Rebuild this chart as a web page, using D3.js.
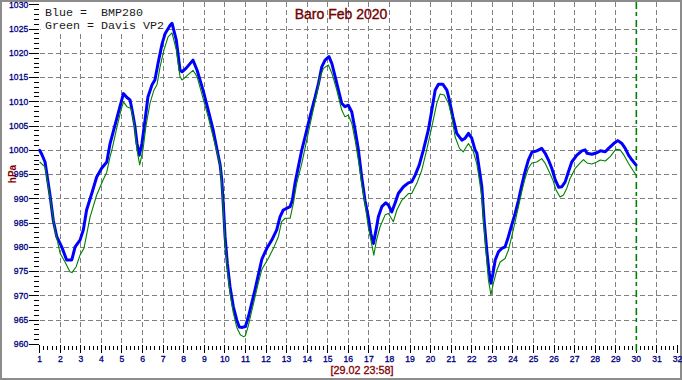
<!DOCTYPE html>
<html><head><meta charset="utf-8">
<script src="https://cdn.jsdelivr.net/npm/d3@7"></script>
<style>html,body{margin:0;padding:0;background:#fff;overflow:hidden}</style>
</head><body>
<script>
// ---- data ----
const titleText = "Baro Feb 2020";
const yAxisLabel = "hPa";
const timeLabel = "[29.02 23:58]";
const legendLines = ["Blue =  BMP280", "Green = Davis VP2"];
const dayTicks = [1,2,3,4,5,6,7,8,9,10,11,12,13,14,15,16,17,18,19,20,21,22,23,24,25,26,27,28,29,30,31,32];
const hpaTicks = [960,965,970,975,980,985,990,995,1000,1005,1010,1015,1020,1025,1030];
const markerDay = 30;

const blueDays = [1.0,1.1,1.26,1.5,1.66,1.83,2.07,2.31,2.56,2.72,2.96,3.12,3.28,3.53,3.77,4.01,4.26,4.42,4.66,4.9,5.07,5.24,5.39,5.49,5.63,5.73,5.84,5.97,6.12,6.26,6.46,6.6,6.75,6.95,7.1,7.34,7.43,7.64,7.82,7.92,8.11,8.45,8.65,8.94,9.19,9.43,9.62,9.77,9.85,9.93,10.01,10.12,10.25,10.41,10.58,10.7,10.85,11.0,11.15,11.3,11.45,11.6,11.8,12.04,12.28,12.52,12.68,12.84,13.17,13.28,13.41,13.57,13.74,13.9,14.06,14.22,14.39,14.55,14.71,14.87,15.06,15.2,15.36,15.52,15.68,15.84,16.0,16.17,16.33,16.49,16.65,16.81,16.97,17.09,17.22,17.35,17.46,17.63,17.82,17.95,18.11,18.27,18.43,18.68,18.92,19.08,19.25,19.45,19.65,19.89,20.06,20.22,20.38,20.6,20.79,20.91,21.08,21.27,21.52,21.68,21.84,22.0,22.16,22.25,22.37,22.49,22.6,22.73,22.83,22.93,23.03,23.14,23.3,23.46,23.62,23.78,23.94,24.11,24.27,24.43,24.59,24.75,24.92,25.16,25.4,25.57,25.73,25.89,26.06,26.22,26.38,26.54,26.7,26.86,27.11,27.35,27.51,27.6,27.84,28.08,28.25,28.49,28.65,28.9,29.1,29.3,29.46,29.62,29.79,29.98];
const blueValues = [1000.0,999.2,997.6,990.8,985.6,982.2,980.1,977.4,977.4,980.1,981.5,983.6,987.7,991.1,994.5,996.3,997.6,1001.4,1005.2,1009.0,1011.7,1010.9,1010.4,1008.3,1004.9,1001.4,999.0,1001.4,1006.2,1011.0,1013.5,1014.5,1017.9,1022.0,1024.1,1025.8,1026.2,1022.7,1016.5,1016.2,1016.9,1018.6,1016.5,1012.4,1008.3,1004.2,1000.1,997.0,993.9,988.4,982.2,976.7,971.9,967.8,965.0,963.6,963.5,963.7,965.8,968.4,971.0,973.8,977.6,979.8,981.5,983.6,986.3,987.7,988.4,989.7,993.2,996.6,1000.1,1002.8,1005.6,1008.3,1011.0,1013.8,1017.2,1018.6,1019.3,1017.9,1015.2,1012.4,1009.7,1009.0,1009.3,1007.9,1004.2,1000.1,994.5,989.7,986.3,982.9,980.8,983.6,986.3,988.4,989.2,988.7,987.3,989.1,991.1,992.5,993.3,993.5,994.9,997.0,1000.1,1004.2,1008.3,1012.4,1013.6,1013.6,1012.4,1010.4,1006.9,1003.5,1002.1,1002.5,1003.5,1002.5,1000.1,999.4,996.0,992.5,985.6,979.4,975.3,972.6,974.6,977.4,979.1,979.8,980.1,982.2,984.6,987.0,989.7,992.8,995.6,998.0,999.6,999.9,1000.4,999.4,998.0,996.3,993.9,992.4,992.5,993.5,995.6,997.6,999.0,999.9,1000.1,999.4,999.2,999.5,999.9,999.7,1000.4,1001.4,1002.0,1001.4,1000.4,999.0,998.0,997.0];

const greenDays = [1.0,1.26,1.5,1.74,1.99,2.23,2.47,2.57,2.77,2.96,3.15,3.45,3.77,4.08,4.26,4.42,4.51,4.76,4.95,5.07,5.24,5.44,5.59,5.73,5.86,6.02,6.16,6.36,6.55,6.7,6.85,7.04,7.24,7.43,7.64,7.82,7.92,8.11,8.45,8.65,8.94,9.19,9.43,9.67,9.77,9.85,9.93,10.01,10.12,10.25,10.41,10.58,10.75,10.9,11.0,11.15,11.3,11.45,11.6,11.8,12.11,12.36,12.6,12.76,12.93,13.17,13.33,13.49,13.74,13.98,14.22,14.47,14.63,14.79,15.03,15.2,15.44,15.68,15.84,16.0,16.17,16.33,16.49,16.65,16.81,16.97,17.13,17.24,17.37,17.54,17.79,17.95,18.19,18.36,18.6,18.92,19.08,19.33,19.57,19.81,20.06,20.3,20.46,20.66,20.87,21.03,21.19,21.4,21.59,21.84,22.08,22.24,22.32,22.49,22.6,22.7,22.81,22.93,23.05,23.22,23.38,23.62,23.78,23.94,24.11,24.27,24.43,24.59,24.75,24.92,25.16,25.4,25.57,25.73,25.94,26.1,26.29,26.46,26.62,26.78,27.03,27.27,27.43,27.6,27.84,28.08,28.25,28.49,28.73,29.0,29.21,29.4,29.62,29.83,29.99];
const greenValues = [997.6,996.6,990.4,983.6,978.8,977.0,975.0,974.8,976.0,978.4,979.8,986.3,990.8,993.9,995.5,998.7,1000.1,1004.9,1008.3,1010.0,1009.0,1008.6,1005.6,1000.1,997.0,1000.1,1004.9,1009.7,1012.4,1013.5,1017.2,1020.7,1023.4,1024.2,1020.7,1015.2,1014.5,1015.2,1016.5,1015.2,1010.7,1006.9,1002.8,998.7,997.0,993.0,987.5,981.0,975.5,970.5,966.5,963.5,962.0,961.6,961.8,964.0,966.8,969.5,972.2,975.5,977.7,979.8,982.2,985.3,986.0,986.0,989.1,993.2,997.3,1002.1,1006.9,1011.7,1015.2,1016.9,1017.6,1015.9,1012.4,1008.3,1006.9,1007.3,1005.6,1002.1,998.0,993.2,989.1,984.2,980.8,978.4,981.5,984.2,986.7,987.0,985.3,987.7,989.7,991.1,991.1,993.2,995.9,1000.1,1004.9,1009.7,1011.6,1011.4,1009.7,1006.9,1002.8,1000.4,999.7,1001.4,999.7,997.3,995.3,990.4,984.2,978.8,973.3,970.2,972.6,975.3,977.0,977.7,979.4,982.2,985.3,988.4,991.5,994.2,996.3,997.4,997.6,998.3,997.3,995.9,993.9,991.8,990.4,990.8,992.2,994.2,996.3,997.4,998.1,997.4,997.2,997.6,998.0,997.8,998.7,1000.2,1000.1,999.0,997.3,995.9,994.9];

// ---- chart ----
const W = 682, H = 380;
const FONT = "'Liberation Sans', Arial, sans-serif";
const svg = d3.select("body").append("svg").attr("width", W).attr("height", H)
  .style("display","block").style("font-family", FONT);

svg.append("rect").attr("x",1).attr("y",1).attr("width",W-2).attr("height",H-2)
  .attr("fill","#fff").attr("stroke","#8c8c8c").attr("stroke-width",2);

const x = d3.scaleLinear().domain([1,32]).range([39.2, 677.0]);
const y = d3.scaleLinear().domain([960,1030]).range([343.9, 4.3]);

// grid
const grid = svg.append("g").attr("stroke","#808080").attr("stroke-width",1)
  .attr("stroke-dasharray","5,3").attr("shape-rendering","crispEdges");
grid.selectAll("line.h").data(hpaTicks.filter(v => v > 960 && v < 1030)).join("line")
  .attr("class","h").attr("x1", x(1)+0.5).attr("x2", x(32)+0.5)
  .attr("y1", d => y(d)+0.5).attr("y2", d => y(d)+0.5);
grid.selectAll("line.v").data(dayTicks.filter(d => d > 1 && d < 32 && d !== markerDay)).join("line")
  .attr("class","v").attr("x1", d => x(d)+0.5).attr("x2", d => x(d)+0.5)
  .attr("y1", 2).attr("y2", y(960)+0.5);

// legend background
svg.append("rect").attr("x", x(1)+1.5).attr("y", 2).attr("width", 125).attr("height", 31).attr("fill","#fff");

// y axis
const yAxis = svg.append("g").attr("transform",`translate(${x(1)},0)`)
  .call(d3.axisLeft(y).tickValues(hpaTicks).tickSize(10).tickPadding(1).tickFormat(d3.format("d")));
yAxis.select(".domain").remove();
yAxis.selectAll("line").attr("stroke","#000").attr("shape-rendering","crispEdges");
yAxis.selectAll("text").attr("fill","#000080").attr("stroke","#000080").attr("stroke-width",0.3)
  .style("font-size","8.6px").style("font-family", FONT);

const yMinor = svg.append("g").attr("transform",`translate(${x(1)},0)`)
  .call(d3.axisLeft(y).tickValues(d3.range(960,1031,1).filter(v => v % 5 !== 0)).tickSize(5).tickFormat(""));
yMinor.select(".domain").remove();
yMinor.selectAll("line").attr("stroke","#000").attr("shape-rendering","crispEdges");

// x axis
const xAxis = svg.append("g").attr("transform",`translate(0,${y(960)+1})`)
  .call(d3.axisBottom(x).tickValues(dayTicks).tickSize(8).tickPadding(3.5).tickFormat(d3.format("d")));
xAxis.select(".domain").remove();
xAxis.selectAll("line").attr("stroke","#000").attr("shape-rendering","crispEdges");
xAxis.selectAll("text").attr("fill","#000080").attr("stroke","#000080").attr("stroke-width",0.3)
  .style("font-size","8.6px").style("font-family", FONT);

const minorDays = d3.range(10, 320, 2).map(v => v/10).filter(v => Math.abs(v - Math.round(v)) > 1e-6 && v < 32);
const xMinor = svg.append("g").attr("transform",`translate(0,${y(960)+2})`)
  .call(d3.axisBottom(x).tickValues(minorDays).tickSize(4.5).tickFormat(""));
xMinor.select(".domain").remove();
xMinor.selectAll("line").attr("stroke","#000").attr("shape-rendering","crispEdges");

// marker line
svg.append("line").attr("x1", x(markerDay)+0.5).attr("x2", x(markerDay)+0.5)
  .attr("y1", 2).attr("y2", y(960)+9)
  .attr("stroke","#008000").attr("stroke-width",1.6).attr("stroke-dasharray","7,3,4,4");

// series
const blueData = blueDays.map((d,i) => [d, blueValues[i]]);
const greenData = greenDays.map((d,i) => [d, greenValues[i]]);
const line = d3.line().x(d => x(d[0])+0.5).y(d => y(d[1])+0.5);
svg.append("path").datum(blueData).attr("d", line).attr("fill","none")
  .attr("stroke","#0000ff").attr("stroke-width",3).attr("stroke-linejoin","round").attr("stroke-linecap","round");
svg.append("path").datum(greenData).attr("d", line).attr("fill","none")
  .attr("stroke","#008000").attr("stroke-width",1.1).attr("stroke-linejoin","round");

// title
svg.append("text").attr("x", 341).attr("y", 18.5).attr("text-anchor","middle")
  .attr("fill","#800000").attr("stroke","#600000").attr("stroke-width",0.35)
  .style("font-size","14px").text(titleText);

// y label
svg.append("text").attr("transform","translate(15.5,174) rotate(-90)").attr("text-anchor","middle")
  .attr("fill","#800000").style("font-size","10px").style("font-weight","bold").text(yAxisLabel);

// time label
svg.append("text").attr("x", 362).attr("y", 373.5).attr("text-anchor","middle")
  .attr("fill","#800000").attr("stroke","#800000").attr("stroke-width",0.3)
  .style("font-size","10.8px").text(timeLabel);

// legend
svg.append("g").selectAll("text").data(legendLines).join("text")
  .attr("x", 45).attr("y", (d,i) => 15.7 + i*13.6)
  .attr("fill","#1a1a1a").style("font-family","'Liberation Mono','Courier New',monospace")
  .style("font-size","11.67px").style("white-space","pre").attr("xml:space","preserve").text(d => d);
</script>
</body></html>
